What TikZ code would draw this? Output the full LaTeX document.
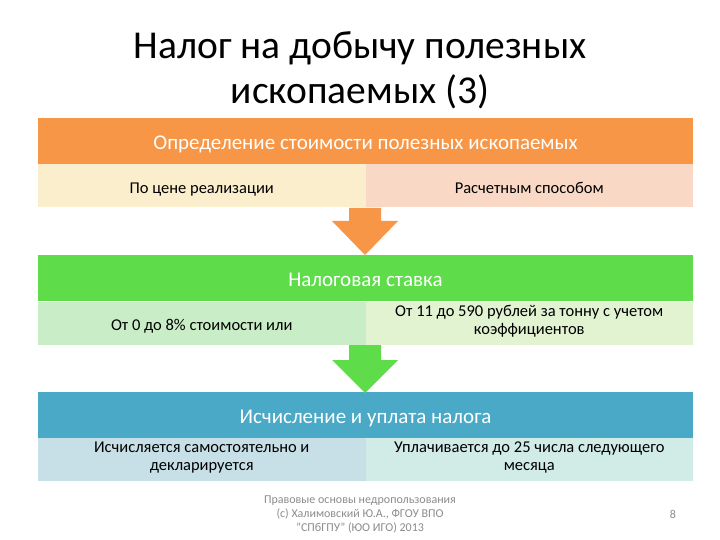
\documentclass[tikz,border=0pt]{standalone}
\usepackage{fontspec}
\setmainfont{Carlito}
\usetikzlibrary{positioning}
\definecolor{barorange}{HTML}{F79646}
\definecolor{cellyellow}{HTML}{FAEECC}
\definecolor{cellpeach}{HTML}{F9D9C6}
\definecolor{bargreen}{HTML}{5EDC4A}
\definecolor{cellgreen}{HTML}{C9EDC6}
\definecolor{celllime}{HTML}{E2F3D2}
\definecolor{barblue}{HTML}{4AA9C6}
\definecolor{cellblue}{HTML}{C7E0E7}
\definecolor{cellteal}{HTML}{D1ECE7}
\definecolor{footgray}{HTML}{8C8C8C}
\tikzset{
    % heading bar of each block
    bar/.style={fill=#1,text=white,minimum width=655,minimum height=46,
        inner sep=0pt,font=\fontsize{21}{22}\selectfont,
        text height=20pt,text depth=4pt},
    % one half of the row under a bar
    cell/.style={fill=#1,text=black,minimum width=327.5,minimum height=43,
        inner sep=0pt,align=center,font=\fontsize{16.5}{18}\selectfont,
        execute at begin node={\rule{0pt}{20pt}},execute at end node=\strut},
}
\begin{document}
\begin{tikzpicture}[x=1pt,y=-1pt]
    \useasboundingbox (0,0) rectangle (720,540);
    \fill[white] (0,0) rectangle (720,540);
    % title
    \node[font=\fontsize{39.5}{45}\selectfont,align=center] (title) at (360,70)
        {Налог на добычу полезных\\ископаемых (3)};
    % first block
    \node[bar=barorange] (cost) at (365.5,141.5) {Определение стоимости полезных ископаемых};
    \node[cell=cellyellow] (price) at (201.75,186) {По цене реализации};
    \node[cell=cellpeach] (calc) at (529.25,186) {Расчетным способом};
    % second block
    \node[bar=bargreen] (rate) at (365.5,278) {Налоговая ставка};
    \node[cell=cellgreen] (pct) at (201.75,323) {От 0 до 8\% стоимости или};
    \node[cell=celllime] (rub) at (529.25,323) {От 11 до 590 рублей за тонну с учетом\\коэффициентов};
    % third block
    \node[bar=barblue] (pay) at (365.5,415) {Исчисление и уплата налога};
    \node[cell=cellblue] (self) at (201.75,459) {Исчисляется самостоятельно и\\декларируется};
    \node[cell=cellteal] (due) at (529.25,459) {Уплачивается до 25 числа следующего\\месяца};
    % block arrows between the blocks
    \fill[barorange] (349,208) -- (381,208) -- (381,221) -- (398,221) -- (365,255)
        -- (332,221) -- (349,221) -- cycle;
    \fill[bargreen] (349,345) -- (381,345) -- (381,360) -- (398,360) -- (365,393)
        -- (332,360) -- (349,360) -- cycle;
    % footer
    \node[text=footgray,font=\fontsize{12}{14}\selectfont,align=center] (foot) at (360,514)
        {Правовые основы недропользования\\(с) Халимовский Ю.А., ФГОУ ВПО\\"СПбГПУ" (ЮО ИГО) 2013};
    \node[text=footgray,font=\fontsize{12}{14}\selectfont] (page) at (673,514) {8};
\end{tikzpicture}
\end{document}
